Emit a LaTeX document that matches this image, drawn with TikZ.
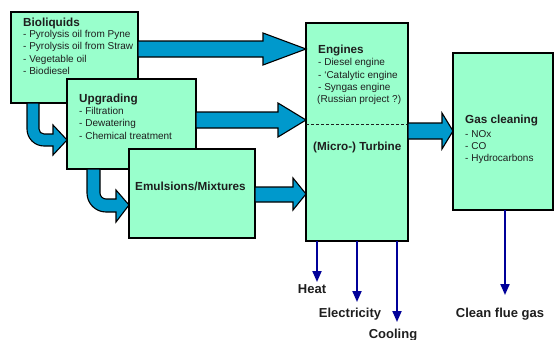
\documentclass[tikz,border=0pt]{standalone}
\usepackage{fontspec}
\setmainfont{Liberation Sans}
\usetikzlibrary{arrows.meta}
\definecolor{mint}{HTML}{99FFCC}
\definecolor{flow}{HTML}{0099CC}
\definecolor{navy}{HTML}{000099}
\definecolor{ink}{HTML}{1E1E1E}
\tikzset{
 box/.style={draw=black, line width=1.3pt, fill=mint, inner sep=0pt, outer sep=0pt, anchor=north west},
 blockarrow/.style={draw=black, line width=1.1pt, fill=flow, line join=miter},
 ttl/.style={font=\fontsize{11.7}{14}\selectfont\bfseries, text=ink, anchor=base west, inner sep=0pt},
 itm/.style={font=\fontsize{10}{12}\selectfont, text=ink, anchor=base west, inner sep=0pt},
 outlabel/.style={font=\fontsize{13}{15}\selectfont\bfseries, text=ink, anchor=base, inner sep=0pt},
 outarrow/.style={draw=navy, line width=2pt, -{Triangle[length=11pt,width=9pt]}},
}
\begin{document}
\begin{tikzpicture}[x=1pt,y=-1pt]
\useasboundingbox (0,0) rectangle (555,340);
% boxes
\node[box, minimum width=127pt, minimum height=91pt] (bio) at (11,12) {};
\node[box, minimum width=129pt, minimum height=90pt] (upg) at (67,79) {};
\node[box, minimum width=126pt, minimum height=89pt] (emu) at (129,149) {};
\node[box, minimum width=102pt, minimum height=218pt] (eng) at (306,23) {};
\node[box, minimum width=100pt, minimum height=157pt] (gas) at (453,53) {};
\draw[ink, line width=0.8pt, dash pattern=on 3pt off 2pt] (eng.west |- 0,124) -- (eng.east |- 0,124);
% block arrows
\draw[blockarrow] (bio.east |- 0,41) -- (263,41) -- (263,33) -- (eng.west |- 0,49) -- (263,65) -- (263,57) -- (bio.east |- 0,57) -- cycle;
\draw[blockarrow] (upg.east |- 0,112) -- (278,112) -- (278,103) -- (eng.west |- 0,120) -- (278,137) -- (278,128) -- (upg.east |- 0,128) -- cycle;
\draw[blockarrow] (emu.east |- 0,187) -- (293,187) -- (293,178) -- (eng.west |- 0,194) -- (293,210) -- (293,202) -- (emu.east |- 0,202) -- cycle;
\draw[blockarrow] (eng.east |- 0,123) -- (442,123) -- (442,113) -- (gas.west |- 0,131) -- (442,149) -- (442,139) -- (eng.east |- 0,139) -- cycle;
% curved arrows
\draw[blockarrow] (bio.south -| 27,0) -- (27,129) .. controls (27,138.4) and (34.6,146) .. (44,146) -- (53,146) -- (53,155) -- (upg.west |- 0,140) -- (53,125) -- (53,134) -- (44,134) .. controls (41.2,134) and (39,131.8) .. (39,129) -- (bio.south -| 39,0) -- cycle;
\draw[blockarrow] (upg.south -| 87,0) -- (87,193) .. controls (87,203.5) and (95.5,212) .. (106,212) -- (116,212) -- (116,222) -- (emu.west |- 0,205) -- (116,190) -- (116,199) -- (106,199) .. controls (102.7,199) and (100,196.3) .. (100,193) -- (upg.south -| 100,0) -- cycle;
% texts
\node[ttl] (t1) at (23,26.2) {Bioliquids};
\node[itm] (t1a) at (23,37.6) {- Pyrolysis oil from Pyne};
\node[itm] (t1b) at (23,49.9) {- Pyrolysis oil from Straw};
\node[itm] (t1c) at (23,62.2) {- Vegetable oil};
\node[itm] (t1d) at (23,74.5) {- Biodiesel};
\node[ttl] (t2) at (79,102) {Upgrading};
\node[itm] (t2a) at (79,114.6) {- Filtration};
\node[itm] (t2b) at (79,126.9) {- Dewatering};
\node[itm] (t2c) at (79,139.2) {- Chemical treatment};
\node[ttl] (t3) at (135,190) {Emulsions/Mixtures};
\node[ttl] (t4) at (318,53) {Engines};
\node[itm] (t4a) at (318,65.6) {- Diesel engine};
\node[itm] (t4b) at (318,78) {- ‘Catalytic engine};
\node[itm] (t4c) at (318,90.4) {- Syngas engine};
\node[itm] (t4d) at (317,102.8) {(Russian project ?)};
\node[ttl] (t5) at (313,150) {(Micro-) Turbine};
\node[ttl] (t6) at (465,123) {Gas cleaning};
\node[itm] (t6a) at (465,137.5) {- NOx};
\node[itm] (t6b) at (465,149.6) {- CO};
\node[itm] (t6c) at (465,161.7) {- Hydrocarbons};
% outputs
\node[outlabel] (heat) at (312,293.6) {Heat};
\node[outlabel] (elec) at (350,317.6) {Electricity};
\node[outlabel] (cool) at (393,338.6) {Cooling};
\node[outlabel] (flue) at (500,317.6) {Clean flue gas};
\coordinate (hT) at (317,282);
\coordinate (eT) at (357,302);
\coordinate (cT) at (397,322);
\coordinate (fT) at (505,295);
\draw[outarrow] (eng.south -| hT) -- (hT);
\draw[outarrow] (eng.south -| eT) -- (eT);
\draw[outarrow] (eng.south -| cT) -- (cT);
\draw[outarrow] (gas.south -| fT) -- (fT);
\end{tikzpicture}
\end{document}
